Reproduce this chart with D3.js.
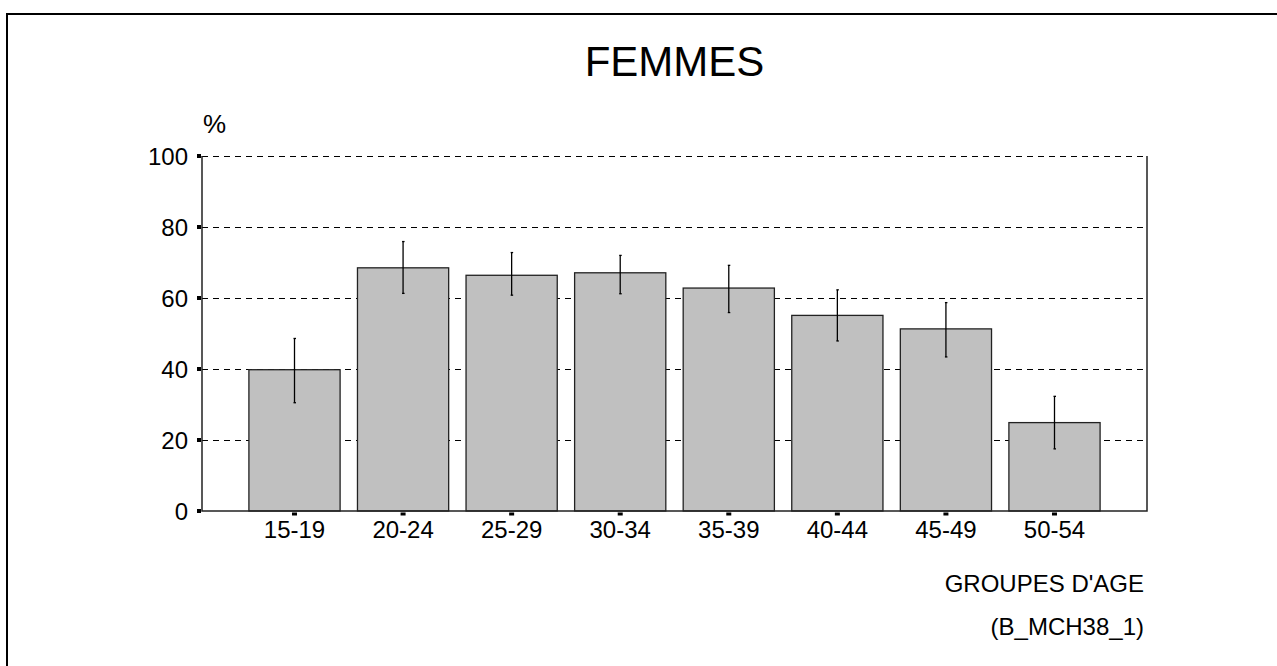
<!DOCTYPE html>
<html>
<head>
<meta charset="utf-8">
<script src="https://cdn.jsdelivr.net/npm/d3@7"></script>
<style>
  body { margin: 0; background: #fff; }
  svg text { font-family: Arial, "Liberation Sans", sans-serif; fill: #000; }
</style>
</head>
<body>
<svg width="1277" height="666"></svg>
<script>
var ageGroups = ["15-19", "20-24", "25-29", "30-34", "35-39", "40-44", "45-49", "50-54"];
var percents  = [39.8, 68.5, 66.4, 67.1, 62.8, 55.1, 51.3, 24.9];
var errLow    = [30.5, 61.3, 60.8, 61.2, 55.9, 47.9, 43.4, 17.5];
var errHigh   = [48.6, 75.9, 72.8, 72.0, 69.2, 62.3, 58.7, 32.3];
var yTicks    = [0, 20, 40, 60, 80, 100];

var svg = d3.select("svg");

var plot = { left: 202, right: 1147, top: 156, bottom: 511 };

// outer frame (runs off the right and bottom of the page)
svg.append("rect")
    .attr("x", 7).attr("y", 14)
    .attr("width", 1300).attr("height", 700)
    .attr("fill", "none")
    .attr("stroke", "#000")
    .attr("stroke-width", 2);

var x = d3.scaleBand()
    .domain(ageGroups)
    .range([plot.left, plot.right])
    .paddingInner(0.16)
    .paddingOuter(0.432);

var y = d3.scaleLinear()
    .domain([0, 100])
    .range([plot.bottom, plot.top]);

var data = ageGroups.map(function(g, i) {
    return { group: g, value: percents[i], lo: errLow[i], hi: errHigh[i] };
});

// dashed grid lines
svg.append("g")
    .attr("shape-rendering", "crispEdges")
    .selectAll("line")
    .data(yTicks.filter(function(d) { return d > 0; }))
    .enter()
    .append("line")
    .attr("x1", plot.left)
    .attr("x2", plot.right)
    .attr("y1", function(d) { return Math.round(y(d)) + 0.5; })
    .attr("y2", function(d) { return Math.round(y(d)) + 0.5; })
    .attr("stroke", "#000")
    .attr("stroke-width", 1)
    .attr("stroke-dasharray", "6,5");

// bars
svg.append("g")
    .selectAll("rect")
    .data(data)
    .enter()
    .append("rect")
    .attr("x", function(d) { return x(d.group); })
    .attr("y", function(d) { return y(d.value); })
    .attr("width", x.bandwidth())
    .attr("height", function(d) { return y(0) - y(d.value); })
    .attr("fill", "#c0c0c0")
    .attr("stroke", "#222")
    .attr("stroke-width", 1.3);

// error bars
var err = svg.append("g")
    .selectAll("g")
    .data(data)
    .enter()
    .append("g")
    .attr("stroke", "#000")
    .attr("stroke-width", 1.3);

err.append("line")
    .attr("x1", function(d) { return x(d.group) + x.bandwidth() / 2; })
    .attr("x2", function(d) { return x(d.group) + x.bandwidth() / 2; })
    .attr("y1", function(d) { return y(d.lo); })
    .attr("y2", function(d) { return y(d.hi); });

["lo", "hi"].forEach(function(k) {
    err.append("line")
        .attr("x1", function(d) { return x(d.group) + x.bandwidth() / 2 - 1; })
        .attr("x2", function(d) { return x(d.group) + x.bandwidth() / 2 + 1.5; })
        .attr("y1", function(d) { return y(d[k]); })
        .attr("y2", function(d) { return y(d[k]); });
});

// plot frame: left, bottom, right
svg.append("path")
    .attr("d", "M" + plot.left + "," + plot.top + "V" + plot.bottom + "H" + plot.right + "V" + plot.top)
    .attr("fill", "none")
    .attr("stroke", "#222")
    .attr("stroke-width", 1.5);

// y axis labels and tick squares
var yAxis = svg.append("g")
    .attr("transform", "translate(" + plot.left + ",0)")
    .call(d3.axisLeft(y).tickValues(yTicks).tickSize(0).tickPadding(14));
yAxis.select(".domain").remove();
yAxis.selectAll("text")
    .attr("font-size", 24)
    .attr("font-family", "Arial, 'Liberation Sans', sans-serif")
    .attr("dy", "0.34em");

svg.append("g")
    .selectAll("rect")
    .data(yTicks)
    .enter()
    .append("rect")
    .attr("x", plot.left - 5)
    .attr("y", function(d) { return y(d) - 2; })
    .attr("width", 4)
    .attr("height", 4)
    .attr("fill", "#000");

// x axis labels and tick squares
var xAxis = svg.append("g")
    .attr("transform", "translate(0," + plot.bottom + ")")
    .call(d3.axisBottom(x).tickSize(0).tickPadding(10));
xAxis.select(".domain").remove();
xAxis.selectAll("text")
    .attr("font-size", 24)
    .attr("font-family", "Arial, 'Liberation Sans', sans-serif");

svg.append("g")
    .selectAll("rect")
    .data(ageGroups)
    .enter()
    .append("rect")
    .attr("x", function(d) { return x(d) + x.bandwidth() / 2 - 2.5; })
    .attr("y", plot.bottom + 1.5)
    .attr("width", 5)
    .attr("height", 3)
    .attr("fill", "#000");

// titles
svg.append("text")
    .attr("x", (plot.left + plot.right) / 2)
    .attr("y", 76)
    .attr("text-anchor", "middle")
    .attr("font-size", 42)
    .text("FEMMES");

svg.append("text")
    .attr("x", 203)
    .attr("y", 133)
    .attr("font-size", 26)
    .text("%");

svg.append("text")
    .attr("x", 1144)
    .attr("y", 592)
    .attr("text-anchor", "end")
    .attr("font-size", 24)
    .text("GROUPES D'AGE");

svg.append("text")
    .attr("x", 1144)
    .attr("y", 635)
    .attr("text-anchor", "end")
    .attr("font-size", 24)
    .text("(B_MCH38_1)");
</script>
</body>
</html>
